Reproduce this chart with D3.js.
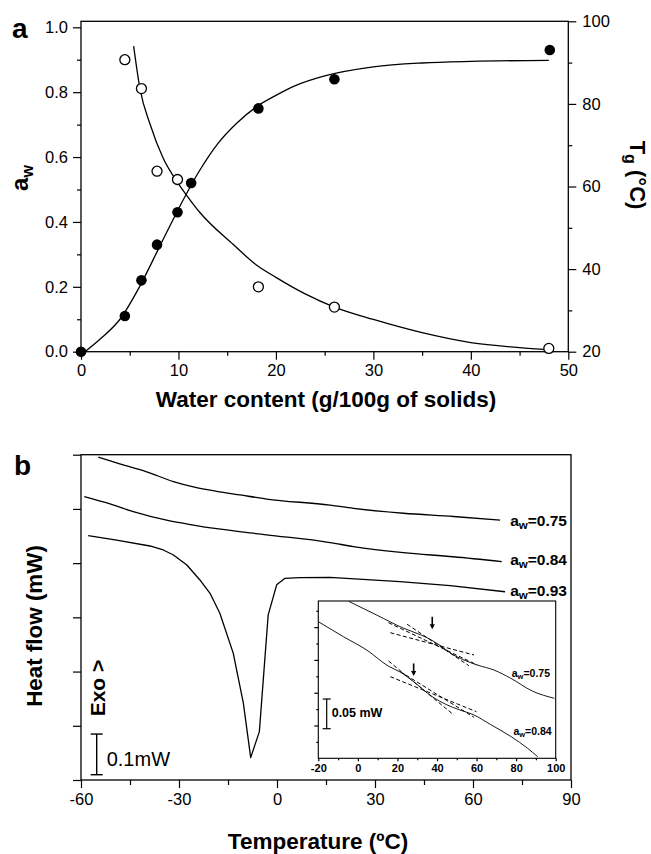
<!DOCTYPE html>
<html>
<head>
<meta charset="utf-8">
<script src="https://cdn.jsdelivr.net/npm/d3@7"></script>
<style>
  body { margin: 0; background: #fff; }
  svg { display: block; font-family: "Liberation Sans", Arial, Helvetica, sans-serif; }
</style>
</head>
<body>
<svg id="chart" width="651" height="854"></svg>
<script>
// ---------- Panel a: water activity and Tg vs. water content ----------
const awWater   = [0, 4.5, 6.2, 7.8, 9.9, 11.3, 18.2, 26.0, 48.1];
const awValues  = [0, 0.11, 0.22, 0.33, 0.43, 0.52, 0.75, 0.84, 0.93];
const tgWater   = [4.5, 6.2, 7.8, 9.9, 18.2, 26.0, 48.0];
const tgValues  = [90.7, 83.7, 63.7, 61.7, 35.7, 30.8, 20.8];

// fitted sorption isotherm
const awFitWater  = [0.4, 2, 4, 6, 8, 10, 12, 14, 16, 18, 20, 22, 25, 30, 35, 40, 48];
const awFitValues = [0, 0.04, 0.10, 0.20, 0.32, 0.44, 0.55, 0.64, 0.705, 0.755, 0.79, 0.82, 0.85, 0.878, 0.89, 0.895, 0.898];
// fitted Gordon-Taylor curve
const tgFitWater  = [5.4, 6.05, 7.1, 8.4, 9.9, 10.8, 12.2, 15.6, 18, 20, 23, 26, 30, 35, 40, 45, 48];
const tgFitValues = [94, 83.7, 75, 67, 61, 58, 53.7, 46, 41, 38, 34, 30.8, 27.8, 24.6, 22.2, 21, 20.5];

const awTicks = [0, 0.2, 0.4, 0.6, 0.8, 1.0];
const awMinorTicks = [0.1, 0.3, 0.5, 0.7, 0.9];
const tgTicks = [20, 40, 60, 80, 100];
const tgMinorTicks = [30, 50, 70, 90];
const waterTicks = [0, 10, 20, 30, 40, 50];
const waterMinorTicks = [5, 15, 25, 35, 45];

// ---------- Panel b: DSC thermograms ----------
const dsc075Temp = [-54.7, -49.1, -39.9, -31.7, -25.6, -18.5, -11.3, -3.2, 16.2, 23.4, 38.7, 54.0, 68.3];
const dsc075Flow = [0.794, 0.780, 0.758, 0.734, 0.721, 0.710, 0.701, 0.691, 0.676, 0.668, 0.656, 0.648, 0.639];
const dsc084Temp = [-59.0, -51.1, -44.0, -33.8, -25.6, -18.5, -3.2, 16.2, 23.4, 38.7, 54.0, 68.8];
const dsc084Flow = [0.697, 0.679, 0.660, 0.639, 0.627, 0.618, 0.603, 0.584, 0.574, 0.559, 0.549, 0.537];
const dsc093Temp = [-57.8, -49.1, -38.9, -34.8, -31.7, -27.6, -23.6, -20.5, -17.5, -13.4, -10.3, -8.05, -5.4, -2.7, -0.1, 2.45, 7.0, 16.2, 37.6, 53.0, 69.8];
const dsc093Flow = [0.601, 0.590, 0.5755, 0.5657, 0.5534, 0.5288, 0.4919, 0.4592, 0.410, 0.312, 0.189, 0.055, 0.119, 0.406, 0.480, 0.496, 0.4975, 0.4985, 0.4877, 0.478, 0.463];
const dscLabels = ["0.75", "0.84", "0.93"];

const tempTicks = [-60, -30, 0, 30, 60, 90];
const tempMinorTicks = [-45, -15, 15, 45, 75];
const flowTicks = [0, 1, 2, 3, 4, 5, 6].map(k => k * 0.8 / 6);
const flowScaleBar = [0.013, 0.113];   // 0.1 mW

// inset: glass transition region
const insetTemp075 = [-4.5, 9.6, 23.1, 31.6, 36.7, 42, 46.9, 53.6, 60.4, 68.8, 77.3, 88.3, 99.3];
const insetFlow075 = [0.264, 0.241, 0.219, 0.208, 0.200, 0.189, 0.177, 0.1655, 0.157, 0.1486, 0.1347, 0.113, 0.101];
const insetTemp084 = [-20, -7.3, 4.6, 15.5, 21.5, 28.2, 37.5, 45, 51, 58.7, 67, 77.7, 85.8, 90.9];
const insetFlow084 = [0.230, 0.2047, 0.182, 0.155, 0.145, 0.129, 0.104, 0.090, 0.082, 0.0729, 0.057, 0.036, 0.0168, 0.0027];
const insetTangents = [
  [[15.5, 0.2283], [60.4, 0.157]],
  [[16.4, 0.2114], [58.7, 0.1739]],
  [[24.9, 0.2256], [56.1, 0.1559]],
  [[15.5, 0.1638], [48.5, 0.0729]],
  [[16.4, 0.1374], [59.9, 0.0785]],
  [[21.5, 0.1458], [58.7, 0.069]]
];
const insetArrowTemp = [37.6, 28.2];
const insetArrowFlow = [0.2172, 0.1386];
const insetTempTicks = [-20, 0, 20, 40, 60, 80, 100];
const insetTempMinorTicks = [-10, 10, 30, 50, 70, 90];
const insetFlowTicks = [2, 4, 6, 8].map(k => k * 0.0276);
const insetFlowMinorTicks = [1, 3, 5, 7, 9].map(k => k * 0.0276);
const insetScaleBar = [0.0498, 0.0998];   // 0.05 mW

// ---------------------------------------------------------------
const svg = d3.select("#chart");
const ink = "#000";
const lw = 1.3;
const plain = d => String(d);   // keep an ASCII hyphen for negatives

function styleAxis(g, size, weight) {
  g.attr("font-family", null).attr("font-size", null);
  g.select(".domain").remove();
  g.selectAll(".tick line").attr("stroke", ink).attr("stroke-width", 1.2);
  g.selectAll(".tick text").attr("fill", ink)
    .style("font-size", size + "px").style("font-weight", weight || "normal");
  return g;
}
function addAxis(axis, transform, size, weight) {
  const g = svg.append("g").attr("transform", transform).call(axis);
  return styleAxis(g, size, weight);
}
function subLabel(sel, main, sub, rest, subSize, dy) {
  sel.append("tspan").text(main);
  sel.append("tspan").text(sub).attr("font-size", subSize).attr("dy", dy);
  sel.append("tspan").text(rest).attr("dy", -dy);
}

// ===== Panel a =====
const xA = d3.scaleLinear([0, 50], [81, 568.3]);
const yA = d3.scaleLinear([0, 1.0185], [351.7, 21.3]);
const yT = d3.scaleLinear([20, 100], [351.7, 21.3]);

addAxis(d3.axisBottom(xA).tickValues(waterTicks).tickSize(8).tickPadding(5).tickSizeOuter(0).tickFormat(plain), "translate(0,351.7)", 16.5);
addAxis(d3.axisBottom(xA).tickValues(waterMinorTicks).tickSize(4).tickFormat(""), "translate(0,351.7)", 16.5);
addAxis(d3.axisLeft(yA).tickValues(awTicks).tickSize(8).tickPadding(5).tickFormat(d3.format(".1f")), "translate(81,0)", 16.5);
addAxis(d3.axisLeft(yA).tickValues(awMinorTicks).tickSize(4).tickFormat(""), "translate(81,0)", 16.5);
addAxis(d3.axisRight(yT).tickValues(tgTicks).tickSize(8).tickPadding(6).tickFormat(plain), "translate(568.3,0)", 16.5);
addAxis(d3.axisRight(yT).tickValues(tgMinorTicks).tickSize(4).tickFormat(""), "translate(568.3,0)", 16.5);

svg.append("rect").attr("x", 81).attr("y", 21.3).attr("width", 568.3 - 81).attr("height", 351.7 - 21.3)
  .attr("fill", "none").attr("stroke", ink).attr("stroke-width", lw);

const fitAw = d3.line().x(d => xA(d[0])).y(d => yA(d[1])).curve(d3.curveMonotoneX);
const fitTg = d3.line().x(d => xA(d[0])).y(d => yT(d[1])).curve(d3.curveMonotoneX);
svg.append("path").attr("d", fitAw(d3.zip(awFitWater, awFitValues)))
  .attr("fill", "none").attr("stroke", ink).attr("stroke-width", lw);
svg.append("path").attr("d", fitTg(d3.zip(tgFitWater, tgFitValues)))
  .attr("fill", "none").attr("stroke", ink).attr("stroke-width", lw);

svg.append("g").selectAll("circle").data(d3.zip(awWater, awValues)).join("circle")
  .attr("cx", d => xA(d[0])).attr("cy", d => yA(d[1])).attr("r", 5.3).attr("fill", ink);
svg.append("g").selectAll("circle").data(d3.zip(tgWater, tgValues)).join("circle")
  .attr("cx", d => xA(d[0])).attr("cy", d => yT(d[1])).attr("r", 5)
  .attr("fill", "#fff").attr("stroke", ink).attr("stroke-width", lw);

svg.append("text").attr("x", 12).attr("y", 38).text("a")
  .attr("font-size", 28).attr("font-weight", "bold");
svg.append("text").attr("x", 326).attr("y", 407).attr("text-anchor", "middle")
  .attr("font-size", 22.5).attr("font-weight", "bold").text("Water content (g/100g of solids)");
subLabel(svg.append("text").attr("transform", "translate(28,178) rotate(-90)").attr("text-anchor", "middle")
  .attr("font-size", 24).attr("font-weight", "bold"), "a", "w", "", 16, 5);
subLabel(svg.append("text").attr("transform", "translate(630,175) rotate(90)").attr("text-anchor", "middle")
  .attr("font-size", 22).attr("font-weight", "bold"), "T", "g", " (°C)", 16, 5);

// ===== Panel b =====
const xB = d3.scaleLinear([-60, 90], [81, 571]);
const yB = d3.scaleLinear([0, 0.8], [780, 454.7]);

addAxis(d3.axisBottom(xB).tickValues(tempTicks).tickSize(8).tickPadding(5).tickSizeOuter(0).tickFormat(plain), "translate(0,780)", 16.5);
addAxis(d3.axisBottom(xB).tickValues(tempMinorTicks).tickSize(5).tickFormat(""), "translate(0,780)", 16.5);
addAxis(d3.axisLeft(yB).tickValues(flowTicks).tickSize(8).tickFormat(""), "translate(81,0)", 16.5);

svg.append("rect").attr("x", 81).attr("y", 454.7).attr("width", 571 - 81).attr("height", 780 - 454.7)
  .attr("fill", "none").attr("stroke", ink).attr("stroke-width", lw);

const dscLine = d3.line().x(d => xB(d[0])).y(d => yB(d[1]));
const dscSeries = [
  { pts: d3.zip(dsc075Temp, dsc075Flow), curve: d3.curveMonotoneX, labelY: 526 },
  { pts: d3.zip(dsc084Temp, dsc084Flow), curve: d3.curveMonotoneX, labelY: 565 },
  { pts: d3.zip(dsc093Temp, dsc093Flow), curve: d3.curveLinear, labelY: 595.7 }
];
dscSeries.forEach((s, i) => {
  svg.append("path").attr("d", dscLine.curve(s.curve)(s.pts))
    .attr("fill", "none").attr("stroke", ink).attr("stroke-width", lw).attr("stroke-linejoin", "round");
  subLabel(svg.append("text").attr("x", 567).attr("y", s.labelY).attr("text-anchor", "end")
    .attr("font-size", 15.5).attr("font-weight", "bold"), "a", "w", "=" + dscLabels[i], 11.5, 3);
});

svg.append("text").attr("x", 14).attr("y", 475).text("b")
  .attr("font-size", 28).attr("font-weight", "bold");
svg.append("text").attr("x", 318).attr("y", 849).attr("text-anchor", "middle")
  .attr("font-size", 22.5).attr("font-weight", "bold").text("Temperature (ºC)");
svg.append("text").attr("transform", "translate(41.7,626) rotate(-90)").attr("text-anchor", "middle")
  .attr("font-size", 22.4).attr("font-weight", "bold").text("Heat flow (mW)");
svg.append("text").attr("transform", "translate(105,688) rotate(-90)").attr("text-anchor", "middle")
  .attr("font-size", 21).attr("font-weight", "bold").text("Exo >");

// 0.1 mW scale bar
const sb = svg.append("g").attr("stroke", ink).attr("stroke-width", 1.4);
sb.append("line").attr("x1", 96.7).attr("x2", 96.7).attr("y1", yB(flowScaleBar[0])).attr("y2", yB(flowScaleBar[1]));
flowScaleBar.forEach(v => sb.append("line").attr("x1", 90.7).attr("x2", 102.7).attr("y1", yB(v)).attr("y2", yB(v)));
svg.append("text").attr("x", 106.7).attr("y", 765.7).attr("font-size", 20).text("0.1mW");

// ===== Inset =====
const xI = d3.scaleLinear([-20, 100], [318.3, 555.7]);
const yI = d3.scaleLinear([0, 0.2648], [758.3, 601]);

svg.append("rect").attr("x", 318.3).attr("y", 601).attr("width", 555.7 - 318.3).attr("height", 758.3 - 601)
  .attr("fill", "#fff").attr("stroke", ink).attr("stroke-width", 1.1);
addAxis(d3.axisBottom(xI).tickValues(insetTempTicks).tickSize(3).tickPadding(3).tickSizeOuter(0).tickFormat(plain), "translate(0,758.3)", 11, "bold");
addAxis(d3.axisBottom(xI).tickValues(insetTempMinorTicks).tickSize(2).tickFormat(""), "translate(0,758.3)", 11);
addAxis(d3.axisLeft(yI).tickValues(insetFlowTicks).tickSize(4).tickFormat(""), "translate(318.3,0)", 11);
addAxis(d3.axisLeft(yI).tickValues(insetFlowMinorTicks).tickSize(2).tickFormat(""), "translate(318.3,0)", 11);

const insetLine = d3.line().x(d => xI(d[0])).y(d => yI(d[1])).curve(d3.curveMonotoneX);
[d3.zip(insetTemp075, insetFlow075), d3.zip(insetTemp084, insetFlow084)].forEach(pts => {
  svg.append("path").attr("d", insetLine(pts))
    .attr("fill", "none").attr("stroke", ink).attr("stroke-width", 0.9);
});
svg.append("g").selectAll("line").data(insetTangents).join("line")
  .attr("x1", d => xI(d[0][0])).attr("y1", d => yI(d[0][1]))
  .attr("x2", d => xI(d[1][0])).attr("y2", d => yI(d[1][1]))
  .attr("stroke", ink).attr("stroke-width", 1).attr("stroke-dasharray", "4,2.5");

insetArrowTemp.forEach((t, i) => {
  const x = xI(t), yTip = yI(insetArrowFlow[i]);
  svg.append("line").attr("x1", x).attr("x2", x).attr("y1", yTip - 12.5).attr("y2", yTip - 4)
    .attr("stroke", ink).attr("stroke-width", 1.6);
  svg.append("path").attr("d", `M${x - 2.6},${yTip - 5}L${x + 2.6},${yTip - 5}L${x},${yTip}Z`).attr("fill", ink);
});

subLabel(svg.append("text").attr("x", 550).attr("y", 677).attr("text-anchor", "end")
  .attr("font-size", 10.5).attr("font-weight", "bold"), "a", "w", "=0.75", 7.5, 2);
subLabel(svg.append("text").attr("x", 551.7).attr("y", 735).attr("text-anchor", "end")
  .attr("font-size", 10.5).attr("font-weight", "bold"), "a", "w", "=0.84", 7.5, 2);

const isb = svg.append("g").attr("stroke", ink).attr("stroke-width", 1.2);
isb.append("line").attr("x1", 326.7).attr("x2", 326.7).attr("y1", yI(insetScaleBar[0])).attr("y2", yI(insetScaleBar[1]));
insetScaleBar.forEach(v => isb.append("line").attr("x1", 322.7).attr("x2", 330.7).attr("y1", yI(v)).attr("y2", yI(v)));
svg.append("text").attr("x", 331.7).attr("y", 717.3).attr("font-size", 12.5).attr("font-weight", "bold").text("0.05 mW");
</script>
</body>
</html>
